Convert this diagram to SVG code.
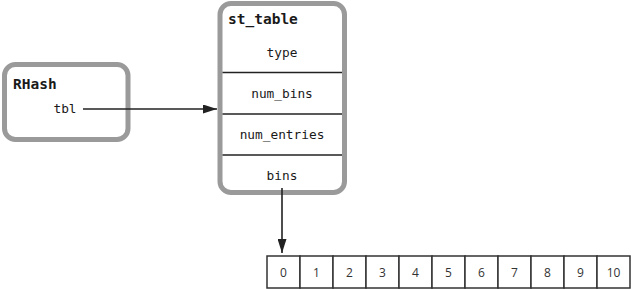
<svg xmlns="http://www.w3.org/2000/svg" width="631" height="289" viewBox="0 0 631 289">
  <style>
    .box { fill: #ffffff; stroke: #9a9a9a; stroke-width: 5; }
    .div { stroke: #222222; stroke-width: 1.6; }
    .title { font-family: "DejaVu Sans Mono", monospace; font-weight: bold; font-size: 14.5px; fill: #1a1a1a; }
    .field { font-family: "DejaVu Sans Mono", monospace; font-size: 12.8px; fill: #1a1a1a; text-anchor: middle; }
    .cell { fill: #ffffff; stroke: #333333; stroke-width: 1.5; }
    .idx { font-family: "Open Sans", "DejaVu Sans", sans-serif; font-size: 12px; fill: #333333; text-anchor: middle; }
    .edge { stroke: #222222; stroke-width: 1.6; fill: none; }
  </style>
  <defs>
    <marker id="arrow" viewBox="0 0 14 9" refX="14" refY="4.5" markerWidth="14" markerHeight="9" markerUnits="userSpaceOnUse" orient="auto">
      <path d="M0,0 L14,4.5 L0,9 Z" fill="#222222"/>
    </marker>
  </defs>

  <g id="rhash">
    <rect class="box" x="4.5" y="64.5" width="123.5" height="75" rx="11"/>
    <text class="title" x="13" y="89">RHash</text>
    <text class="field" x="65" y="113">tbl</text>
  </g>

  <g id="st_table">
    <rect class="box" x="220" y="3.5" width="124.5" height="189" rx="11"/>
    <text class="title" x="228" y="24">st_table</text>
    <text class="field" x="282" y="57">type</text>
    <line class="div" x1="222.5" y1="72.5" x2="342" y2="72.5"/>
    <text class="field" x="282" y="98">num_bins</text>
    <line class="div" x1="222.5" y1="114" x2="342" y2="114"/>
    <text class="field" x="282" y="139">num_entries</text>
    <line class="div" x1="222.5" y1="155" x2="342" y2="155"/>
    <text class="field" x="282" y="180">bins</text>
  </g>

  <g id="bins_array">
    <rect class="cell" x="267" y="256" width="33" height="32"/>
    <rect class="cell" x="300" y="256" width="33" height="32"/>
    <rect class="cell" x="333" y="256" width="33" height="32"/>
    <rect class="cell" x="366" y="256" width="33" height="32"/>
    <rect class="cell" x="399" y="256" width="33" height="32"/>
    <rect class="cell" x="432" y="256" width="33" height="32"/>
    <rect class="cell" x="465" y="256" width="33" height="32"/>
    <rect class="cell" x="498" y="256" width="33" height="32"/>
    <rect class="cell" x="531" y="256" width="33" height="32"/>
    <rect class="cell" x="564" y="256" width="33" height="32"/>
    <rect class="cell" x="597" y="256" width="33" height="32"/>
    <text class="idx" x="283.5" y="276.5">0</text>
    <text class="idx" x="316.5" y="276.5">1</text>
    <text class="idx" x="349.5" y="276.5">2</text>
    <text class="idx" x="382.5" y="276.5">3</text>
    <text class="idx" x="415.5" y="276.5">4</text>
    <text class="idx" x="448.5" y="276.5">5</text>
    <text class="idx" x="481.5" y="276.5">6</text>
    <text class="idx" x="514.5" y="276.5">7</text>
    <text class="idx" x="547.5" y="276.5">8</text>
    <text class="idx" x="580.5" y="276.5">9</text>
    <text class="idx" x="613.5" y="276.5">10</text>
  </g>

  <g id="connectors">
    <line class="edge" x1="83" y1="109" x2="217" y2="109" marker-end="url(#arrow)"/>
    <line class="edge" x1="282" y1="188" x2="282" y2="253" marker-end="url(#arrow)"/>
  </g>
</svg>
